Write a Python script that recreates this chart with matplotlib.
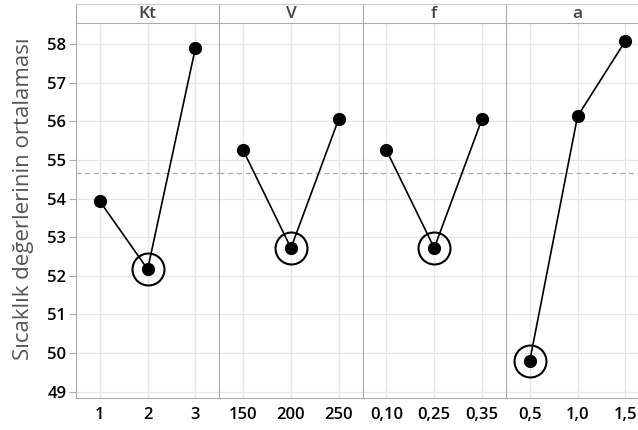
import matplotlib
matplotlib.use('Agg')
import matplotlib.pyplot as plt

plt.rcParams['font.family'] = ['Open Sans', 'DejaVu Sans']

# Faktoren und Seviyeler
factors = ['Kt', 'V', 'f', 'a']
level_labels = [['1', '2', '3'],
                ['150', '200', '250'],
                ['0,10', '0,25', '0,35'],
                ['0,5', '1,0', '1,5']]
kt_means = [53.93, 52.17, 57.90]
v_means = [55.25, 52.72, 56.06]
f_means = [55.25, 52.72, 56.06]
a_means = [49.80, 56.13, 58.08]
means = [kt_means, v_means, f_means, a_means]
grand_mean = 54.66
yticks = [49, 50, 51, 52, 53, 54, 55, 56, 57, 58]

W, H = 638, 430
fig = plt.figure(figsize=(W / 100, H / 100), dpi=100)

# Panels: rechter Rand liegt ausserhalb des Bildes (abgeschnitten)
left = 76
pw = 143.3
top_ax, bottom_ax = 22.5, 397.5
strip_top = 4

for i, name in enumerate(factors):
    x0 = left + i * pw
    ax = fig.add_axes([x0 / W, 1 - bottom_ax / H, pw / W, (bottom_ax - top_ax) / H])
    vals = means[i]
    xs = [1, 2, 3]
    ax.plot(xs, vals, color='black', lw=1.2, zorder=3)
    ax.plot(xs, vals, 'o', color='black', ms=8.5, zorder=4)
    j = vals.index(min(vals))
    ax.plot([xs[j]], [vals[j]], 'o', mfc='none', mec='black', mew=1.5, ms=23, zorder=4)
    ax.axhline(grand_mean, color='#aaaaaa', lw=0.9, ls=(0, (4, 3)), zorder=2)
    ax.set_xlim(0.5, 3.5)
    ax.set_ylim(48.85, 58.56)
    ax.set_xticks(xs)
    ax.set_xticklabels(level_labels[i], fontsize=12, fontweight='semibold')
    ax.set_yticks(yticks)
    ax.grid(True, color='#e6e6e6', lw=1, zorder=0)
    ax.set_axisbelow(True)
    ax.tick_params(axis='x', length=0, pad=7)
    for s in ['top', 'right']:
        ax.spines[s].set_visible(False)
    ax.spines['bottom'].set_color('#aaaaaa')
    ax.spines['left'].set_color('#aaaaaa')
    if i == 0:
        ax.tick_params(axis='y', length=5, color='#aaaaaa', labelsize=12, pad=2)
        for t in ax.get_yticklabels():
            t.set_fontweight('semibold')
        ax.set_ylabel('Sıcaklık değerlerinin ortalaması', fontsize=16, color='#555555')
        ax.yaxis.set_label_coords(-0.295, 0.53)
    else:
        ax.tick_params(axis='y', length=0, labelleft=False)

    # Streifen oben
    sax = fig.add_axes([x0 / W, 1 - top_ax / H, pw / W, (top_ax - strip_top) / H])
    sax.set_xticks([])
    sax.set_yticks([])
    for s in sax.spines.values():
        s.set_color('#aaaaaa')
    sax.spines['top'].set_color('#cccccc')
    sax.text(0.5, 0.45, name, ha='center', va='center', fontsize=12.5,
             fontweight='semibold', color='#444444', transform=sax.transAxes)

fig.savefig('out.png', dpi=100)
